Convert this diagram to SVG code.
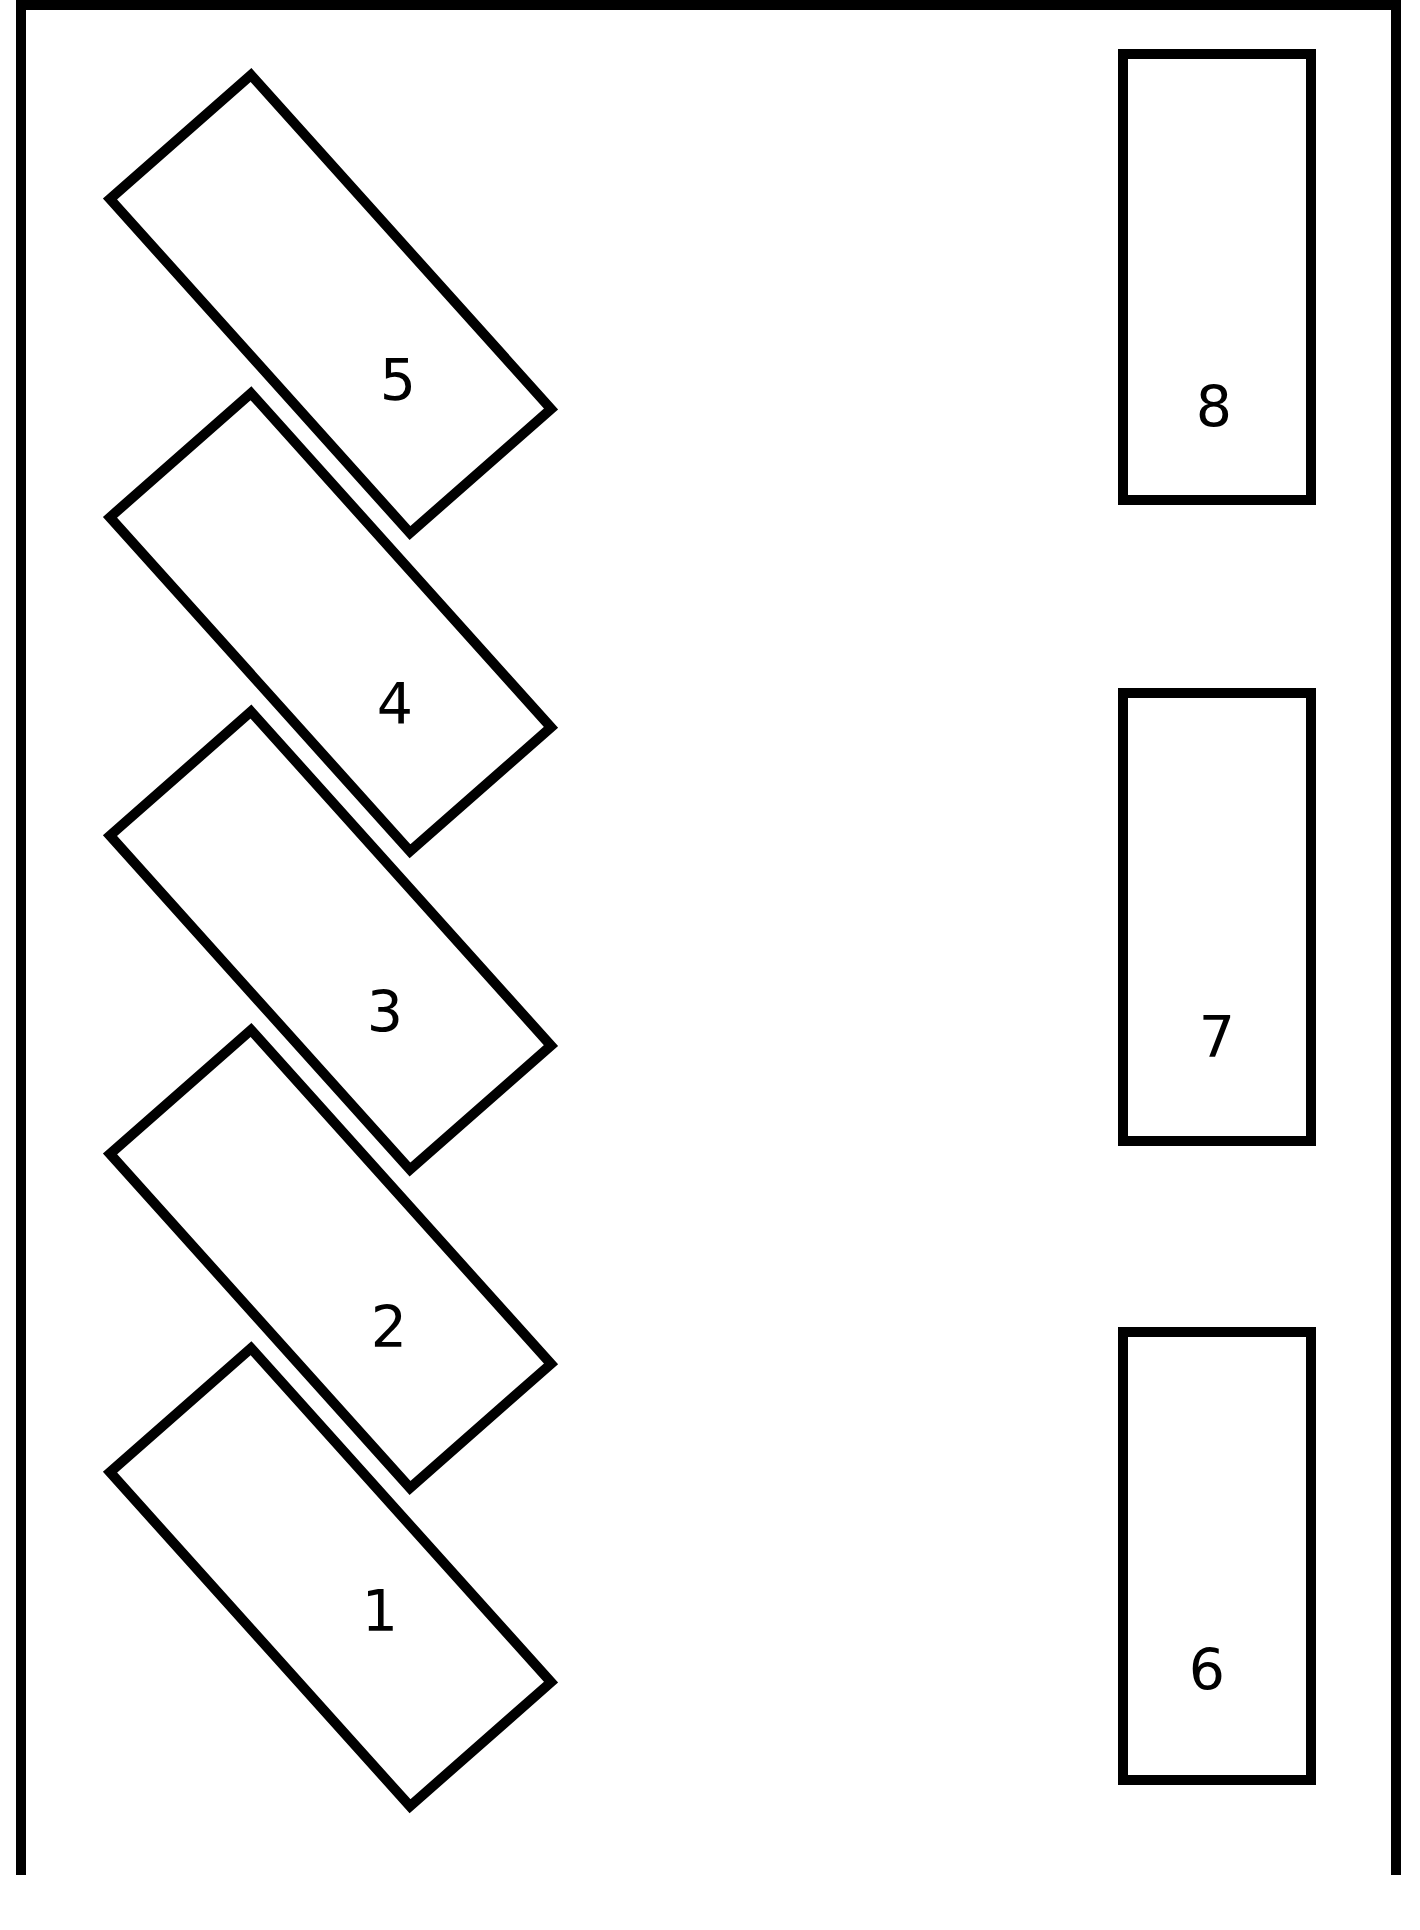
<svg xmlns="http://www.w3.org/2000/svg" width="1420" height="1930" viewBox="0 0 1420 1930">
<style>
.s{fill:none;stroke:#000;stroke-width:10;stroke-linejoin:miter;stroke-miterlimit:10}
.t{font-family:"DejaVu Sans","Liberation Sans",sans-serif;font-size:57px;fill:#000;text-anchor:middle}
</style>
<defs>
<polygon id="slot" points="251,75 551,409 410,533 110,199"/>
</defs>
<rect width="1420" height="1930" fill="#fff"/>
<g id="walls">
<path class="s" d="M21,1875 V5 H1396 V1875"/>
</g>
<g id="connectors"/>
<g id="node5"><use href="#slot" class="s"/><text class="t" x="398" y="400">5</text></g>
<g id="node4" transform="translate(0,318.3)"><use href="#slot" class="s"/><text class="t" x="395" y="406">4</text></g>
<g id="node3" transform="translate(0,636.6)"><use href="#slot" class="s"/><text class="t" x="385" y="395">3</text></g>
<g id="node2" transform="translate(0,954.9)"><use href="#slot" class="s"/><text class="t" x="389" y="392">2</text></g>
<g id="node1" transform="translate(0,1273.2)"><use href="#slot" class="s"/><text class="t" x="380" y="358">1</text></g>
<g id="node8"><rect class="s" x="1123" y="54" width="188" height="446"/><text class="t" x="1214" y="427">8</text></g>
<g id="node7"><rect class="s" x="1123" y="693" width="188" height="448"/><text class="t" x="1217" y="1057">7</text></g>
<g id="node6"><rect class="s" x="1123" y="1332" width="188" height="448"/><text class="t" x="1207" y="1690">6</text></g>
</svg>
